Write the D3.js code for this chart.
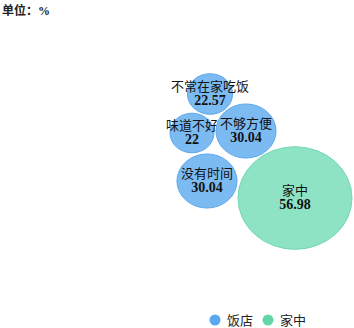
<!DOCTYPE html>
<meta charset="utf-8">
<script src="https://d3js.org/d3.v7.min.js"></script>
<style>
  body { margin: 0; background: #fff; }
  text { font-family: "Liberation Serif", "Noto Sans CJK SC", serif; }
</style>
<div id="my_dataviz"></div>
<script>

// data
var names = ["不常在家吃饭", "味道不好", "不够方便", "没有时间", "家中"];
var values = [22.57, 22, 30.04, 30.04, 56.98];
var groups = ["饭店", "饭店", "饭店", "饭店", "家中"];
// bubble layout position (0-100 layout units)
var layoutX = [30, 21, 48, 28.5, 72.5];
var layoutY = [22, 41.5, 40.5, 65.5, 74];
var legendNames = ["饭店", "家中"];

var width = 354, height = 328;

var svg = d3.select("#my_dataviz")
  .append("svg")
    .attr("width", width)
    .attr("height", height);

// scales
var x = d3.scaleLinear().domain([0, 100]).range([150, 350]);
var y = d3.scaleLinear().domain([0, 100]).range([50, 250]);
var r = d3.scaleLinear().domain([0, 56.98]).range([0, 57]);
var color = d3.scaleOrdinal()
  .domain(legendNames)
  .range(["#7cbaf2", "#8fe3c5"]);
var stroke = d3.scaleOrdinal()
  .domain(legendNames)
  .range(["#5ea8ee", "#72d8b2"]);
var dot = d3.scaleOrdinal()
  .domain(legendNames)
  .range(["#5aa8f0", "#63d6a9"]);

// unit label
svg.append("text")
  .attr("x", 2)
  .attr("y", 15)
  .style("font-size", "12px")
  .style("font-weight", "bold")
  .attr("fill", "#222")
  .text("单位：%");

var data = names.map(function(d, i) {
  return {name: d, value: values[i], group: groups[i], lx: layoutX[i], ly: layoutY[i]};
});

var bubbles = svg.selectAll("g.bubble")
  .data(data)
  .enter()
  .append("g")
    .attr("class", "bubble")
    .attr("transform", function(d) { return "translate(" + x(d.lx) + "," + y(d.ly) + ")"; });

bubbles.append("ellipse")
  .attr("rx", function(d) { return r(d.value); })
  .attr("ry", function(d) { return r(d.value) * 0.9; })
  .attr("fill", function(d) { return color(d.group); })
  .attr("stroke", function(d) { return stroke(d.group); })
  .attr("stroke-width", 1);

bubbles.append("text")
  .attr("text-anchor", "middle")
  .attr("y", -3)
  .style("font-size", "13px")
  .attr("fill", "#111")
  .text(function(d) { return d.name; });

bubbles.append("text")
  .attr("text-anchor", "middle")
  .attr("y", 11)
  .style("font-size", "14px")
  .style("font-weight", "bold")
  .attr("fill", "#111")
  .text(function(d) { return d.value; });

// legend
var legend = svg.selectAll("g.legend")
  .data(legendNames)
  .enter()
  .append("g")
    .attr("class", "legend")
    .attr("transform", function(d, i) { return "translate(" + (215 + i * 53) + ",320)"; });

legend.append("circle")
  .attr("r", 5.5)
  .attr("fill", function(d) { return dot(d); });

legend.append("text")
  .attr("x", 12)
  .attr("y", 5)
  .style("font-size", "13px")
  .attr("fill", "#222")
  .text(function(d) { return d; });

</script>
